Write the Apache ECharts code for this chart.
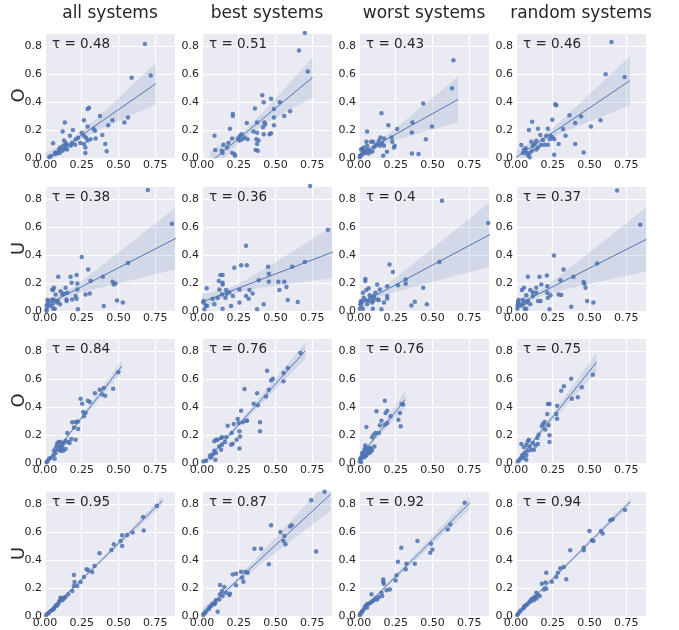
<!DOCTYPE html>
<html>
<head>
<meta charset="utf-8">
<script src="https://cdn.jsdelivr.net/npm/echarts@6/dist/echarts.min.js"></script>
<style>
  html, body { margin: 0; padding: 0; background: #fff; }
  #chart { width: 679px; height: 630px; }
</style>
</head>
<body>
<div id="chart"></div>
<script>
// column titles, row labels, tau per panel
const columnTitles = ['all systems', 'best systems', 'worst systems', 'random systems'];
const rowLabels = ['O', 'U', 'O', 'U'];
const tauRow1 = [0.48, 0.51, 0.43, 0.46];
const tauRow2 = [0.38, 0.36, 0.4, 0.37];
const tauRow3 = [0.84, 0.76, 0.76, 0.75];
const tauRow4 = [0.95, 0.87, 0.92, 0.94];

const xTicks = [0, 0.25, 0.5, 0.75];
const yTicks = [0, 0.2, 0.4, 0.6, 0.8];

// row 1 (O)
const o1All = [[0.68,0.817],[0.59,0.575],[0.72,0.59],[0.30,0.36],[0.29,0.35],[0.375,0.30],[0.46,0.27],[0.565,0.29],[0.54,0.255],[0.43,0.235],[0.265,0.27],[0.135,0.255],[0.29,0.225],[0.33,0.21],[0.34,0.195],[0.39,0.165],[0.19,0.20],[0.12,0.19],[0.25,0.18],[0.265,0.16],[0.28,0.145],[0.31,0.135],[0.345,0.14],[0.29,0.125],[0.265,0.10],[0.275,0.075],[0.275,0.035],[0.41,0.10],[0.42,0.048],[0.055,0.105],[0.17,0.16],[0.225,0.145],[0.21,0.135],[0.185,0.107],[0.15,0.093],[0.13,0.125],[0.14,0.107],[0.125,0.088],[0.105,0.075],[0.095,0.06],[0.135,0.07],[0.15,0.06],[0.07,0.04],[0.085,0.035],[0.10,0.035],[0.068,0.028],[0.12,0.052],[0.205,0.095],[0.24,0.107],[0.175,0.088],[0.03,0.005],[0.04,0.015]];
const o1Best = [[0.70,0.895],[0.66,0.77],[0.72,0.62],[0.60,0.335],[0.53,0.40],[0.56,0.30],[0.49,0.35],[0.47,0.425],[0.41,0.45],[0.42,0.40],[0.36,0.355],[0.49,0.29],[0.49,0.235],[0.425,0.255],[0.43,0.24],[0.415,0.22],[0.42,0.17],[0.46,0.17],[0.47,0.178],[0.375,0.255],[0.305,0.25],[0.35,0.19],[0.375,0.18],[0.21,0.315],[0.21,0.30],[0.19,0.21],[0.205,0.14],[0.18,0.107],[0.17,0.075],[0.245,0.14],[0.255,0.125],[0.26,0.16],[0.275,0.135],[0.29,0.147],[0.27,0.17],[0.31,0.135],[0.37,0.135],[0.375,0.10],[0.385,0.125],[0.365,0.057],[0.38,0.052],[0.085,0.16],[0.09,0.057],[0.135,0.052],[0.14,0.035],[0.205,0.035],[0.22,0.028],[0.225,0.017],[0.145,0.095]];
const o1Worst = [[0.643,0.70],[0.634,0.50],[0.437,0.39],[0.497,0.225],[0.455,0.135],[0.364,0.254],[0.36,0.183],[0.36,0.033],[0.405,0.028],[0.26,0.207],[0.20,0.235],[0.153,0.32],[0.055,0.19],[0.243,0.088],[0.238,0.076],[0.227,0.116],[0.222,0.147],[0.19,0.045],[0.165,0.017],[0.146,0.147],[0.17,0.14],[0.135,0.124],[0.158,0.107],[0.142,0.088],[0.17,0.088],[0.124,0.10],[0.112,0.088],[0.096,0.116],[0.082,0.116],[0.10,0.076],[0.09,0.045],[0.066,0.033],[0.05,0.116],[0.055,0.088],[0.032,0.076],[0.02,0.064],[0.014,0.06],[0.027,0.04],[0.043,0.036],[0.01,0.017],[0.005,0.005],[0.023,0.026],[0.037,0.052],[0.06,0.06],[0.073,0.052]];
const o1Random = [[0.65,0.83],[0.61,0.60],[0.74,0.58],[0.575,0.27],[0.51,0.225],[0.443,0.297],[0.364,0.306],[0.403,0.25],[0.403,0.10],[0.46,0.04],[0.337,0.16],[0.32,0.207],[0.274,0.378],[0.267,0.385],[0.247,0.273],[0.217,0.21],[0.15,0.21],[0.11,0.26],[0.088,0.20],[0.165,0.164],[0.206,0.16],[0.235,0.16],[0.25,0.147],[0.26,0.135],[0.23,0.135],[0.29,0.10],[0.26,0.024],[0.217,0.095],[0.195,0.095],[0.17,0.093],[0.138,0.124],[0.127,0.10],[0.104,0.116],[0.115,0.088],[0.15,0.076],[0.138,0.06],[0.11,0.052],[0.093,0.036],[0.07,0.04],[0.048,0.036],[0.036,0.093],[0.08,0.02],[0.093,0.005],[0.066,0.069],[0.054,0.057],[0.183,0.128]];

// row 2 (U)
const u1All = [[0.70,0.867],[0.864,0.625],[0.565,0.344],[0.25,0.387],[0.294,0.297],[0.394,0.245],[0.46,0.209],[0.468,0.19],[0.48,0.197],[0.49,0.076],[0.53,0.06],[0.40,0.036],[0.305,0.126],[0.276,0.119],[0.31,0.214],[0.215,0.257],[0.174,0.245],[0.09,0.245],[0.22,0.197],[0.181,0.202],[0.22,0.154],[0.14,0.166],[0.208,0.107],[0.215,0.088],[0.224,0.012],[0.185,0.083],[0.147,0.083],[0.147,0.071],[0.152,0.13],[0.129,0.126],[0.106,0.142],[0.118,0.119],[0.061,0.166],[0.05,0.154],[0.054,0.15],[0.072,0.119],[0.088,0.071],[0.102,0.048],[0.079,0.06],[0.05,0.083],[0.061,0.078],[0.05,0.048],[0.066,0.017],[0.057,0.017],[0.027,0.071],[0.016,0.078],[0.016,0.048],[0.016,0.036],[0.011,0.012],[0.011,0.0],[0.038,0.036]];
const u1Best = [[0.736,0.895],[0.857,0.582],[0.70,0.35],[0.614,0.316],[0.45,0.316],[0.455,0.266],[0.455,0.209],[0.52,0.209],[0.56,0.209],[0.575,0.171],[0.527,0.15],[0.584,0.078],[0.652,0.064],[0.42,0.048],[0.375,0.012],[0.30,0.468],[0.305,0.328],[0.266,0.328],[0.22,0.309],[0.386,0.221],[0.345,0.126],[0.323,0.15],[0.318,0.088],[0.30,0.107],[0.255,0.154],[0.255,0.06],[0.198,0.036],[0.186,0.135],[0.164,0.15],[0.168,0.124],[0.16,0.095],[0.14,0.202],[0.14,0.19],[0.125,0.257],[0.14,0.257],[0.114,0.214],[0.118,0.154],[0.136,0.119],[0.107,0.095],[0.084,0.048],[0.073,0.088],[0.032,0.162],[0.027,0.04],[0.01,0.06],[0.01,0.071],[0.016,0.012],[0.034,0.036],[0.14,0.017],[0.21,0.107]];
const u1Worst = [[0.565,0.79],[0.88,0.63],[0.547,0.35],[0.208,0.333],[0.231,0.28],[0.318,0.226],[0.318,0.195],[0.265,0.185],[0.192,0.178],[0.192,0.107],[0.192,0.09],[0.437,0.166],[0.38,0.066],[0.357,0.04],[0.462,0.048],[0.153,0.012],[0.124,0.19],[0.142,0.154],[0.112,0.13],[0.124,0.083],[0.135,0.078],[0.10,0.095],[0.096,0.071],[0.10,0.107],[0.089,0.06],[0.094,0.017],[0.073,0.112],[0.066,0.162],[0.05,0.15],[0.043,0.23],[0.043,0.214],[0.043,0.078],[0.032,0.095],[0.027,0.13],[0.02,0.064],[0.01,0.06],[0.014,0.04],[0.005,0.017],[0.027,0.017],[0.055,0.048],[0.066,0.071],[0.078,0.095],[0.014,0.071],[0.17,0.06]];
const u1Random = [[0.688,0.862],[0.846,0.618],[0.552,0.34],[0.258,0.397],[0.324,0.297],[0.303,0.221],[0.391,0.245],[0.46,0.207],[0.466,0.195],[0.473,0.166],[0.484,0.071],[0.527,0.06],[0.376,0.031],[0.29,0.119],[0.308,0.114],[0.21,0.254],[0.16,0.245],[0.081,0.245],[0.213,0.178],[0.172,0.19],[0.213,0.13],[0.138,0.166],[0.235,0.112],[0.217,0.095],[0.228,0.012],[0.167,0.071],[0.15,0.071],[0.138,0.13],[0.115,0.135],[0.097,0.15],[0.115,0.107],[0.054,0.166],[0.04,0.15],[0.07,0.112],[0.081,0.071],[0.097,0.048],[0.07,0.06],[0.048,0.078],[0.048,0.048],[0.059,0.017],[0.07,0.017],[0.018,0.078],[0.014,0.064],[0.014,0.048],[0.014,0.036],[0.009,0.017],[0.036,0.04]];

// row 3 (O)
const o2All = [[0.498,0.65],[0.464,0.532],[0.40,0.537],[0.373,0.525],[0.39,0.49],[0.41,0.482],[0.34,0.50],[0.292,0.446],[0.305,0.437],[0.242,0.46],[0.253,0.425],[0.26,0.365],[0.276,0.358],[0.265,0.334],[0.224,0.298],[0.208,0.294],[0.185,0.291],[0.197,0.255],[0.226,0.243],[0.208,0.167],[0.179,0.172],[0.152,0.215],[0.158,0.15],[0.167,0.143],[0.14,0.16],[0.129,0.143],[0.118,0.131],[0.106,0.15],[0.095,0.15],[0.084,0.143],[0.102,0.119],[0.118,0.107],[0.124,0.088],[0.106,0.088],[0.095,0.095],[0.079,0.124],[0.072,0.103],[0.061,0.088],[0.057,0.055],[0.038,0.036],[0.027,0.031],[0.016,0.012],[0.011,0.005],[0.072,0.072],[0.14,0.10],[0.066,0.031]];
const o2Best = [[0.67,0.788],[0.584,0.68],[0.555,0.644],[0.555,0.585],[0.482,0.604],[0.47,0.59],[0.443,0.661],[0.455,0.525],[0.436,0.477],[0.375,0.50],[0.38,0.413],[0.352,0.425],[0.289,0.53],[0.266,0.375],[0.30,0.303],[0.277,0.291],[0.307,0.303],[0.243,0.315],[0.25,0.286],[0.255,0.227],[0.259,0.19],[0.255,0.103],[0.395,0.291],[0.395,0.227],[0.216,0.279],[0.202,0.215],[0.175,0.267],[0.209,0.138],[0.198,0.131],[0.236,0.167],[0.164,0.184],[0.157,0.15],[0.136,0.184],[0.13,0.179],[0.095,0.167],[0.107,0.167],[0.084,0.155],[0.136,0.131],[0.118,0.119],[0.13,0.095],[0.084,0.088],[0.095,0.072],[0.091,0.024],[0.061,0.04],[0.055,0.053],[0.027,0.017],[0.009,0.012],[0.073,0.06]];
const o2Worst = [[0.176,0.446],[0.119,0.37],[0.192,0.375],[0.181,0.358],[0.215,0.334],[0.29,0.422],[0.30,0.418],[0.279,0.358],[0.268,0.31],[0.284,0.263],[0.192,0.286],[0.153,0.303],[0.142,0.27],[0.176,0.274],[0.05,0.258],[0.135,0.215],[0.112,0.215],[0.10,0.203],[0.089,0.184],[0.105,0.119],[0.078,0.107],[0.089,0.095],[0.071,0.072],[0.082,0.084],[0.043,0.126],[0.037,0.095],[0.055,0.088],[0.032,0.072],[0.021,0.072],[0.027,0.055],[0.043,0.048],[0.016,0.04],[0.009,0.029],[0.005,0.012],[0.014,0.007],[0.032,0.04],[0.05,0.055],[0.06,0.072],[0.043,0.107],[0.066,0.103]];
const o2Random = [[0.523,0.632],[0.376,0.604],[0.326,0.549],[0.308,0.518],[0.448,0.542],[0.421,0.47],[0.38,0.46],[0.228,0.422],[0.217,0.422],[0.28,0.41],[0.274,0.35],[0.28,0.317],[0.213,0.35],[0.222,0.27],[0.228,0.198],[0.228,0.15],[0.195,0.294],[0.183,0.279],[0.176,0.263],[0.199,0.239],[0.154,0.203],[0.145,0.179],[0.149,0.136],[0.115,0.143],[0.133,0.126],[0.088,0.167],[0.081,0.155],[0.07,0.131],[0.036,0.136],[0.054,0.112],[0.093,0.119],[0.104,0.095],[0.122,0.095],[0.081,0.088],[0.059,0.072],[0.043,0.055],[0.07,0.055],[0.036,0.036],[0.025,0.024],[0.014,0.012],[0.07,0.024],[0.054,0.036]];

// row 4 (U)
const u2All = [[0.762,0.788],[0.667,0.709],[0.672,0.613],[0.597,0.597],[0.559,0.58],[0.525,0.578],[0.514,0.537],[0.525,0.501],[0.468,0.513],[0.452,0.473],[0.371,0.449],[0.337,0.358],[0.321,0.315],[0.294,0.327],[0.283,0.334],[0.265,0.279],[0.242,0.243],[0.219,0.215],[0.197,0.294],[0.201,0.243],[0.197,0.215],[0.186,0.179],[0.158,0.155],[0.14,0.136],[0.129,0.126],[0.113,0.126],[0.102,0.112],[0.118,0.112],[0.106,0.131],[0.088,0.084],[0.072,0.076],[0.061,0.055],[0.05,0.043],[0.038,0.036],[0.027,0.024],[0.016,0.017],[0.009,0.007],[0.079,0.072],[0.057,0.048],[0.095,0.10],[0.129,0.131]];
const u2Best = [[0.834,0.89],[0.743,0.828],[0.777,0.461],[0.561,0.573],[0.568,0.513],[0.555,0.537],[0.534,0.602],[0.611,0.649],[0.60,0.64],[0.47,0.649],[0.455,0.37],[0.402,0.482],[0.357,0.482],[0.295,0.317],[0.273,0.274],[0.282,0.246],[0.266,0.317],[0.232,0.303],[0.209,0.298],[0.232,0.22],[0.191,0.16],[0.186,0.15],[0.152,0.208],[0.123,0.222],[0.136,0.179],[0.123,0.155],[0.118,0.119],[0.107,0.031],[0.091,0.095],[0.073,0.088],[0.061,0.072],[0.05,0.06],[0.045,0.048],[0.027,0.031],[0.016,0.017],[0.009,0.007],[0.095,0.112],[0.084,0.084],[0.141,0.143],[0.164,0.167],[0.311,0.31]];
const u2Worst = [[0.719,0.81],[0.622,0.656],[0.604,0.62],[0.49,0.518],[0.50,0.477],[0.485,0.453],[0.398,0.537],[0.288,0.489],[0.265,0.389],[0.38,0.375],[0.323,0.375],[0.318,0.334],[0.256,0.291],[0.249,0.255],[0.165,0.262],[0.165,0.246],[0.169,0.231],[0.21,0.19],[0.188,0.184],[0.158,0.143],[0.153,0.167],[0.085,0.155],[0.112,0.126],[0.10,0.112],[0.089,0.103],[0.078,0.095],[0.066,0.088],[0.055,0.084],[0.043,0.072],[0.055,0.06],[0.037,0.055],[0.027,0.04],[0.02,0.031],[0.014,0.024],[0.009,0.012],[0.005,0.007],[0.124,0.119],[0.135,0.136]];
const u2Random = [[0.742,0.759],[0.658,0.692],[0.643,0.685],[0.579,0.609],[0.59,0.59],[0.50,0.609],[0.516,0.542],[0.527,0.537],[0.461,0.489],[0.461,0.47],[0.369,0.47],[0.326,0.351],[0.342,0.263],[0.301,0.341],[0.285,0.31],[0.274,0.279],[0.244,0.246],[0.206,0.31],[0.201,0.239],[0.206,0.196],[0.19,0.19],[0.176,0.231],[0.161,0.143],[0.138,0.167],[0.127,0.136],[0.115,0.126],[0.104,0.119],[0.10,0.103],[0.093,0.103],[0.081,0.088],[0.07,0.079],[0.059,0.072],[0.048,0.053],[0.032,0.04],[0.025,0.031],[0.014,0.017],[0.009,0.007],[0.122,0.112],[0.138,0.126],[0.149,0.15],[0.054,0.06]];

const panels = [
    [o1All, o1Best, o1Worst, o1Random],
    [u1All, u1Best, u1Worst, u1Random],
    [o2All, o2Best, o2Worst, o2Random],
    [u2All, u2Best, u2Worst, u2Random]
];
const taus = [tauRow1, tauRow2, tauRow3, tauRow4];

// layout (px)
const colLeft = [45, 202, 359, 516];
const rowTop = [33, 186, 338, 491];
const panelW = 130, panelH = 125;
const X_MAX = 0.885, Y_MAX = 0.895;
const blue = '#4C72B0';
const textColor = '#262626';
const font = 'DejaVu Sans';

// OLS line + 95% band (robust / sandwich variance, close to a bootstrap band)
// line spans data range + 5% on each side, like matplotlib's auto margins
function fitLine(pts) {
    const n = pts.length;
    let mx = 0, my = 0;
    pts.forEach(p => { mx += p[0]; my += p[1]; });
    mx /= n; my /= n;
    let sxx = 0, sxy = 0;
    pts.forEach(p => { sxx += (p[0] - mx) ** 2; sxy += (p[0] - mx) * (p[1] - my); });
    const b = sxy / sxx, a = my - b * mx;
    const res = pts.map(p => p[1] - a - b * p[0]);
    const xs = pts.map(p => p[0]);
    const lo = Math.min(...xs), hi = Math.max(...xs), r = hi - lo;
    const x0 = lo - 0.05 * r, x1 = hi + 0.05 * r;
    const line = [], upper = [], lower = [];
    for (let i = 0; i <= 40; i++) {
        const x = x0 + (x1 - x0) * i / 40;
        const y = a + b * x;
        let v = 0;
        pts.forEach((p, j) => {
            const w = 1 / n + (x - mx) * (p[0] - mx) / sxx;
            v += res[j] * res[j] * w * w;
        });
        v *= n / (n - 2);
        const h = 1.96 * Math.sqrt(v);
        line.push([x, y]);
        upper.push([x, y + h]);
        lower.push([x, y - h]);
    }
    return { line, upper, lower };
}

const grids = [], xAxes = [], yAxes = [], series = [], graphics = [];

panels.forEach((row, r) => {
    row.forEach((pts, c) => {
        const k = r * 4 + c;
        grids.push({
            left: colLeft[c], top: rowTop[r], width: panelW, height: panelH,
            show: true, backgroundColor: '#EAEAF2', borderWidth: 0
        });
        xAxes.push({
            type: 'value', gridIndex: k, min: 0, max: X_MAX, interval: 0.25,
            axisLine: { show: false }, axisTick: { show: false },
            splitLine: { show: true, lineStyle: { color: '#fff', width: 1 } },
            axisLabel: {
                color: textColor, fontSize: 11, fontFamily: font, margin: 2,
                formatter: v => xTicks.some(t => Math.abs(t - v) < 1e-6) ? v.toFixed(2) : ''
            }
        });
        yAxes.push({
            type: 'value', gridIndex: k, min: 0, max: Y_MAX, interval: 0.2,
            axisLine: { show: false }, axisTick: { show: false },
            splitLine: { show: true, lineStyle: { color: '#fff', width: 1 } },
            axisLabel: {
                color: textColor, fontSize: 11, fontFamily: font, margin: 3,
                formatter: v => yTicks.some(t => Math.abs(t - v) < 1e-6) ? v.toFixed(1) : ''
            }
        });

        const f = fitLine(pts);

        series.push({
            type: 'scatter', xAxisIndex: k, yAxisIndex: k, data: pts,
            symbolSize: 4.5, itemStyle: { color: blue, opacity: 0.85 }, z: 2, silent: true
        });
        series.push({
            type: 'custom', xAxisIndex: k, yAxisIndex: k, clip: true, silent: true, z: 3,
            data: [[0, 0]],
            renderItem: function (params, api) {
                const poly = f.upper.concat(f.lower.slice().reverse()).map(p => api.coord(p));
                return { type: 'polygon', shape: { points: poly }, style: { fill: 'rgba(76,114,176,0.15)' } };
            }
        });
        series.push({
            type: 'line', xAxisIndex: k, yAxisIndex: k, data: f.line, clip: true,
            showSymbol: false, silent: true, z: 4,
            lineStyle: { color: blue, width: 1 }
        });

        graphics.push({
            type: 'text', left: colLeft[c] + 7, top: rowTop[r] + 4, z: 100,
            style: { text: 'τ = ' + taus[r][c], font: '13.5px "DejaVu Sans"', fill: textColor }
        });
    });
});

columnTitles.forEach((t, c) => {
    graphics.push({
        type: 'text', x: colLeft[c] + panelW / 2, y: 14, z: 100,
        style: { text: t, font: '17px "DejaVu Sans"', fill: textColor,
                 textAlign: 'center', textVerticalAlign: 'middle', align: 'center', verticalAlign: 'middle' }
    });
});

rowLabels.forEach((t, r) => {
    graphics.push({
        type: 'text', x: 19, y: rowTop[r] + panelH / 2, rotation: Math.PI / 2, z: 100,
        style: { text: t, font: '18px "DejaVu Sans"', fill: textColor,
                 textAlign: 'center', textVerticalAlign: 'middle', align: 'center', verticalAlign: 'middle' }
    });
});

const chart = echarts.init(document.getElementById('chart'), null, { renderer: 'canvas' });
chart.setOption({
    animation: false,
    backgroundColor: '#fff',
    grid: grids,
    xAxis: xAxes,
    yAxis: yAxes,
    series: series,
    graphic: graphics
});
</script>
</body>
</html>
